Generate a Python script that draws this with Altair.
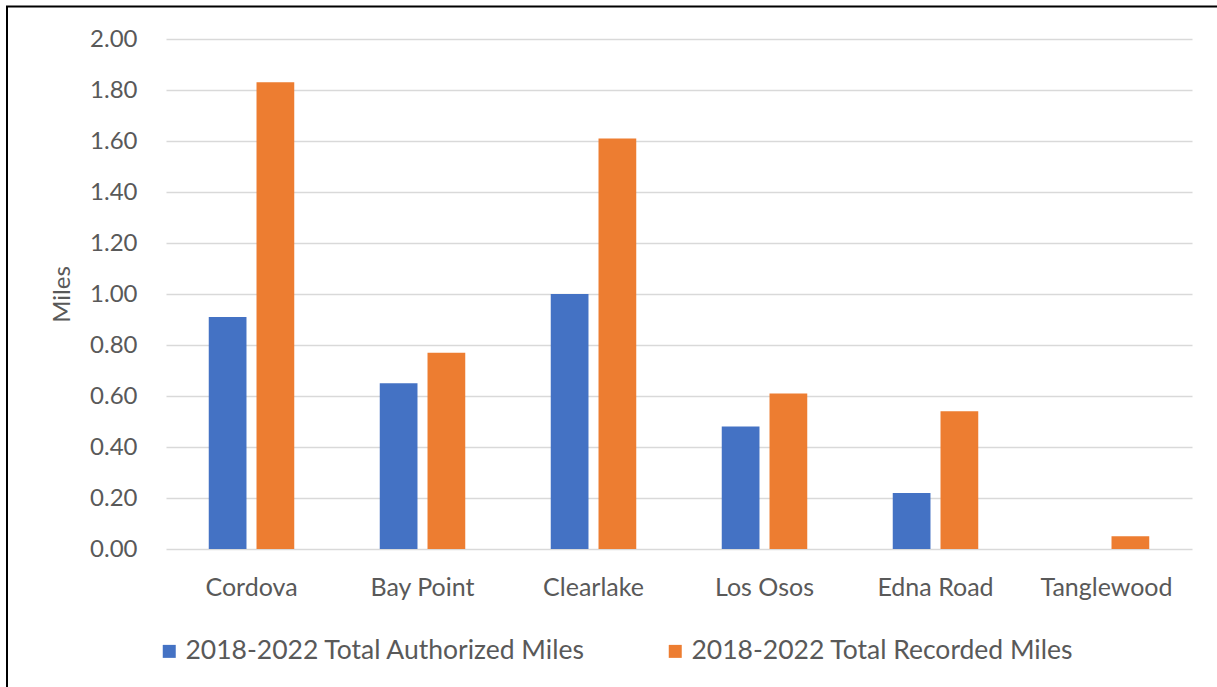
import altair as alt
import pandas as pd

# Site names and mileage per series
sites = ["Cordova", "Bay Point", "Clearlake", "Los Osos", "Edna Road", "Tanglewood"]
authorized = [0.91, 0.65, 1.00, 0.48, 0.22, 0.00]
recorded = [1.83, 0.77, 1.61, 0.61, 0.54, 0.05]
series = ["2018-2022 Total Authorized Miles", "2018-2022 Total Recorded Miles"]
colors = ["#4472C4", "#ED7D31"]
y_ticks = [0.0, 0.2, 0.4, 0.6, 0.8, 1.0, 1.2, 1.4, 1.6, 1.8, 2.0]

rows = []
for i, site in enumerate(sites):
    rows.append({"site": site, "series": series[0], "miles": authorized[i]})
    rows.append({"site": site, "series": series[1], "miles": recorded[i]})
df = pd.DataFrame(rows)

FONT = "Lato"
TEXT = "#595959"
W, H = 1026, 510

bars = alt.Chart(df).mark_bar().encode(
    x=alt.X(
        "site:N",
        sort=sites,
        title=None,
        scale=alt.Scale(paddingInner=0.5, paddingOuter=0.25),
        axis=alt.Axis(
            labelAngle=0, ticks=False, domain=False, grid=False,
            labelFont=FONT, labelFontSize=25, labelColor=TEXT,
            labelBaseline="alphabetic", labelPadding=46,
        ),
    ),
    xOffset=alt.XOffset(
        "series:N", sort=series,
        scale=alt.Scale(paddingInner=0.21, paddingOuter=0),
    ),
    y=alt.Y(
        "miles:Q",
        scale=alt.Scale(domain=[0, 2], nice=False),
        axis=alt.Axis(
            values=y_ticks, format=".2f", title="Miles",
            ticks=False, domain=False,
            grid=True, gridColor="#d9d9d9", gridWidth=1.3,
            labelFont=FONT, labelFontSize=24, labelColor=TEXT, labelPadding=29,
            titleFont=FONT, titleFontSize=24, titleFontWeight="normal", titleColor=TEXT,
            titleAngle=270, titleX=-104, titleY=H / 2,
            titleAlign="center", titleBaseline="middle",
        ),
    ),
    color=alt.Color(
        "series:N",
        sort=series,
        scale=alt.Scale(domain=series, range=colors),
        legend=alt.Legend(
            title=None, orient="none", direction="horizontal",
            legendX=-10, legendY=599,
            symbolType="square", symbolSize=169, symbolStrokeWidth=0,
            labelFont=FONT, labelFontSize=26.5, labelColor=TEXT,
            labelOffset=3, labelLimit=0, columnPadding=76,
        ),
    ),
)

# Frame lines along the top and left edges of the page
frame = pd.DataFrame({"edge": ["frame"]})
top_edge = alt.Chart(frame).mark_rule(color="black", strokeWidth=2).encode(
    x=alt.value(-160), x2=alt.value(W + 30), y=alt.value(-32.5)
)
left_edge = alt.Chart(frame).mark_rule(color="black", strokeWidth=2).encode(
    x=alt.value(-159), y=alt.value(-33), y2=alt.value(H + 140)
)

chart = alt.layer(bars, top_edge, left_edge).properties(
    width=W,
    height=H,
    autosize=alt.AutoSizeParams(type="none"),
    padding={"left": 166, "top": 39, "right": 25, "bottom": 138},
    background="white",
).configure_view(stroke=None)

chart.save("out.html", embed_options={"renderer": "svg", "actions": False})
